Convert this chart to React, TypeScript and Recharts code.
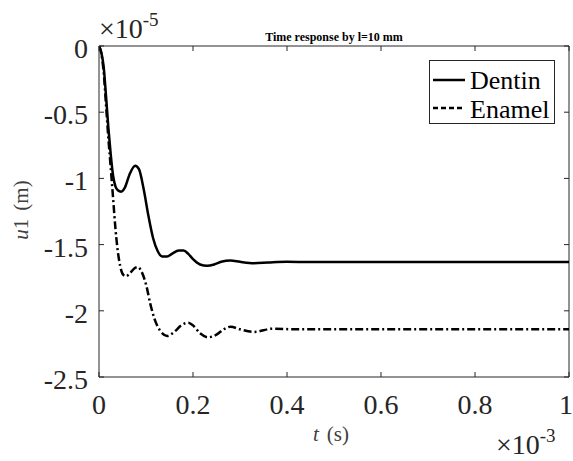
import React from "react";
import { LineChart, Line, XAxis, YAxis, ReferenceLine, Legend } from "recharts";

// time in units of 1e-3 s, displacement in units of 1e-5 m
const dentinTime = [0, 0.005, 0.01, 0.015, 0.02, 0.025, 0.03, 0.035, 0.04, 0.047, 0.055, 0.065, 0.077, 0.085, 0.095, 0.105, 0.115, 0.125, 0.135, 0.145, 0.155, 0.17, 0.18, 0.19, 0.2, 0.215, 0.23, 0.245, 0.26, 0.28, 0.3, 0.33, 0.36, 0.4, 0.45, 0.5, 0.6, 0.7, 0.8, 0.9, 1.0];
const dentinU = [0, -0.05, -0.16, -0.38, -0.62, -0.82, -0.98, -1.06, -1.09, -1.1, -1.07, -0.97, -0.905, -0.93, -1.08, -1.28, -1.45, -1.55, -1.59, -1.59, -1.57, -1.545, -1.545, -1.57, -1.61, -1.65, -1.66, -1.65, -1.63, -1.62, -1.63, -1.64, -1.635, -1.63, -1.632, -1.632, -1.632, -1.632, -1.632, -1.632, -1.632];

const enamelTime = [0, 0.005, 0.01, 0.015, 0.02, 0.025, 0.03, 0.035, 0.04, 0.045, 0.05, 0.057, 0.065, 0.075, 0.083, 0.09, 0.1, 0.11, 0.12, 0.13, 0.145, 0.16, 0.175, 0.19, 0.2, 0.215, 0.232, 0.25, 0.265, 0.28, 0.3, 0.33, 0.37, 0.42, 0.5, 0.6, 0.7, 0.8, 0.9, 1.0];
const enamelU = [0, -0.06, -0.2, -0.45, -0.7, -0.92, -1.15, -1.38, -1.55, -1.66, -1.72, -1.74, -1.72, -1.68, -1.67, -1.7, -1.8, -1.96, -2.08, -2.15, -2.19, -2.16, -2.11, -2.09, -2.11, -2.17, -2.2, -2.18, -2.14, -2.12, -2.14, -2.16, -2.135, -2.14, -2.14, -2.14, -2.14, -2.14, -2.14, -2.14];

const xTicks = [0, 0.2, 0.4, 0.6, 0.8, 1];
const yTicks = [0, -0.5, -1, -1.5, -2, -2.5];
const seriesNames = ["Dentin", "Enamel"];

const dentinData = dentinTime.map((t, i) => ({ t, u: dentinU[i] }));
const enamelData = enamelTime.map((t, i) => ({ t, u: enamelU[i] }));

const W = 573;
const H = 461;
const PLOT_LEFT = 99;
const PLOT_RIGHT = 569;
const PLOT_TOP = 46;
const PLOT_BOTTOM = 377;
const TICK = 5;
const AX = "#262626";
const FONT = "'Liberation Serif', 'Times New Roman', serif";
const ENAMEL_DASH = "8 3 2 3";

const XTick = (props: any) => {
  const { x, payload } = props;
  const isLast = payload.value === xTicks[xTicks.length - 1];
  return (
    <g>
      <line x1={x} x2={x} y1={PLOT_BOTTOM} y2={PLOT_BOTTOM - TICK} stroke={AX} strokeWidth={1} />
      <line x1={x} x2={x} y1={PLOT_TOP} y2={PLOT_TOP + TICK} stroke={AX} strokeWidth={1} />
      <text
        x={isLast ? x + 4 : x}
        y={PLOT_BOTTOM + 37}
        textAnchor={isLast ? "end" : "middle"}
        fontFamily={FONT}
        fontSize={28}
        fill={AX}
      >
        {String(payload.value)}
      </text>
    </g>
  );
};

const YTick = (props: any) => {
  const { y, payload } = props;
  return (
    <g>
      <line x1={PLOT_LEFT} x2={PLOT_LEFT + TICK} y1={y} y2={y} stroke={AX} strokeWidth={1} />
      <line x1={PLOT_RIGHT - TICK} x2={PLOT_RIGHT} y1={y} y2={y} stroke={AX} strokeWidth={1} />
      <text x={PLOT_LEFT - 11} y={y + 12} textAnchor="end" fontFamily={FONT} fontSize={28} fill={AX}>
        {String(payload.value)}
      </text>
    </g>
  );
};

const LegendBox = () => (
  <svg width={127} height={65} style={{ display: "block" }}>
    <rect x={0.5} y={0.5} width={125} height={63} fill="#fff" stroke={AX} strokeWidth={1} />
    <line x1={4} x2={36} y1={20} y2={20} stroke="#000" strokeWidth={2.5} />
    <text x={41} y={28.5} fontFamily={FONT} fontSize={26} fill="#000">{seriesNames[0]}</text>
    <line x1={4} x2={36} y1={48} y2={48} stroke="#000" strokeWidth={2.5} strokeDasharray="5 3" />
    <text x={41} y={57.5} fontFamily={FONT} fontSize={26} fill="#000">{seriesNames[1]}</text>
  </svg>
);

export default function App() {
  return (
    <div style={{ position: "absolute", left: 0, top: 0, width: W, height: H, background: "#fff" }}>
      <LineChart width={W} height={H} margin={{ top: PLOT_TOP, right: W - PLOT_RIGHT, bottom: 0, left: 0 }}>
        <XAxis
          dataKey="t"
          type="number"
          domain={[0, 1]}
          ticks={xTicks}
          height={H - PLOT_BOTTOM}
          axisLine={{ stroke: AX, strokeWidth: 1 }}
          tickLine={false}
          tickSize={0}
          tick={<XTick />}
          allowDataOverflow
          interval={0}
        />
        <YAxis
          type="number"
          dataKey="u"
          domain={[-2.5, 0]}
          ticks={yTicks}
          width={PLOT_LEFT}
          axisLine={{ stroke: AX, strokeWidth: 1 }}
          tickLine={false}
          tickSize={0}
          tick={<YTick />}
          allowDataOverflow
          interval={0}
        />
        <ReferenceLine y={0} stroke={AX} strokeWidth={1} ifOverflow="extendDomain" />
        <ReferenceLine x={1} stroke={AX} strokeWidth={1} ifOverflow="extendDomain" />
        <Line
          data={dentinData}
          dataKey="u"
          name={seriesNames[0]}
          type="monotone"
          stroke="#000"
          strokeWidth={2.5}
          dot={false}
          isAnimationActive={false}
        />
        <Line
          data={enamelData}
          dataKey="u"
          name={seriesNames[1]}
          type="monotone"
          stroke="#000"
          strokeWidth={2.5}
          strokeDasharray={ENAMEL_DASH}
          dot={false}
          isAnimationActive={false}
        />
        <Legend
          layout="vertical"
          align="center"
          verticalAlign="middle"
          content={<LegendBox />}
          wrapperStyle={{ left: 429, top: 60, width: 127, height: 65 }}
        />
        <text x={334} y={41} textAnchor="middle" fontFamily={FONT} fontSize={12} fontWeight="bold" fill="#000">
          Time response by l=10 mm
        </text>
        <text x={99} y={38} fontFamily={FONT} fontSize={28} fill={AX}>
          ×10<tspan dy={-12} fontSize={19}>-5</tspan>
        </text>
        <text x={496} y={454} fontFamily={FONT} fontSize={28} fill={AX}>
          ×10<tspan dy={-12} fontSize={19}>-3</tspan>
        </text>
        <text x={313} y={441} fontFamily={FONT} fontSize={21} fill="#404040">
          <tspan fontStyle="italic">t</tspan>
          <tspan dx={8}>(s)</tspan>
        </text>
        <text transform="rotate(-90)" x={-210} y={28} textAnchor="middle" fontFamily={FONT} fontSize={21} fill="#404040">
          <tspan fontStyle="italic">u</tspan>
          <tspan>1</tspan>
          <tspan dx={8}>(m)</tspan>
        </text>
      </LineChart>
    </div>
  );
}
